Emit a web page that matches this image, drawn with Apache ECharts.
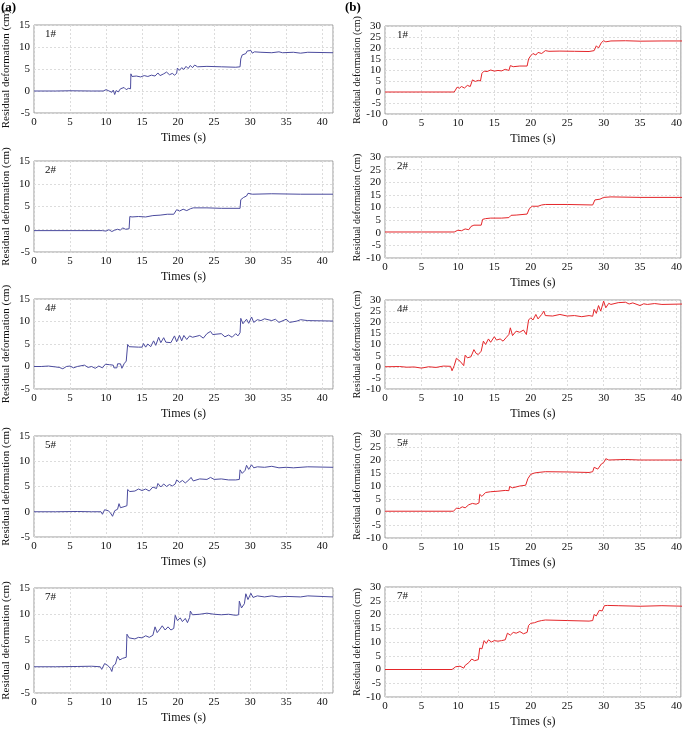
<!DOCTYPE html>
<html>
<head>
<meta charset="utf-8">
<script src="https://cdn.jsdelivr.net/npm/echarts@6/dist/echarts.min.js"></script>
<style>
  html, body { margin: 0; padding: 0; background: #fff; }
  #charts { width: 685px; height: 729px; }
</style>
</head>
<body>
<div id="charts"></div>
<script>
// Panel names, top to bottom
const panelNames = ['1#', '2#', '4#', '5#', '7#'];

// Column (a): residual deformation (cm) vs time (s)
const a1 = [[0,0],[3,0],[5,0.05],[8,0],[9.6,0],[9.8,-0.4],[10,0.3],[10.3,0.1],[10.5,0.4],[10.8,-0.3],[11,0.2],[11.2,-0.8],[11.4,0.1],[11.7,-0.2],[12,0.5],[12.2,0.2],[12.5,0.8],[12.8,0.3],[13.1,0.6],[13.4,0.5],[13.45,3.9],[13.6,3.3],[14.2,3.4],[14.8,3.2],[15.3,3.5],[15.8,3.3],[16.3,3.6],[16.8,3.4],[17.2,4.1],[17.5,3.5],[18,3.9],[18.4,4.3],[18.8,3.7],[19.2,4.0],[19.5,3.6],[19.8,4.0],[19.9,5.2],[20.2,4.7],[20.5,5.3],[20.8,4.9],[21.1,5.6],[21.4,5.1],[21.7,5.8],[22,5.3],[22.3,5.9],[22.7,5.5],[24,5.6],[26,5.5],[28,5.4],[28.6,5.5],[28.7,7.3],[28.9,8.2],[29.1,7.8],[29.4,8.5],[29.6,9.1],[29.8,8.8],[30.1,9.2],[30.3,8.6],[30.6,8.9],[31.5,8.8],[33,8.7],[34,8.9],[34.5,8.7],[36,8.8],[37,8.6],[38,8.8],[41.5,8.7]];
const a2 = [[0,-0.3],[5,-0.3],[9.5,-0.3],[9.7,-0.1],[10,-0.4],[10.4,-0.1],[10.8,-0.5],[11.2,-0.2],[11.6,0],[12,-0.2],[12.3,0.3],[12.7,0],[13.2,0.1],[13.3,2.8],[13.6,2.7],[14.5,2.8],[15.5,2.7],[16.5,3.0],[17.5,3.1],[18.5,3.3],[19.4,3.3],[19.6,3.7],[19.8,4.3],[20.2,4.0],[20.7,4.4],[21.2,4.1],[21.7,4.5],[22.1,4.7],[24,4.7],[26,4.6],[28.6,4.6],[28.7,6.5],[29.1,7.0],[29.5,7.3],[29.7,7.9],[30.3,7.7],[33,7.8],[37,7.7],[41.5,7.7]];
const a3 = [[0,0],[1,0],[2,0.1],[3,-0.1],[3.5,-0.2],[4,-0.5],[4.5,0],[5,0.1],[5.5,-0.3],[6,0],[7,0.3],[7.5,-0.2],[8,0],[8.5,-0.4],[9,0.1],[9.5,-0.3],[9.9,0.5],[10.5,0.4],[11,0.3],[11.1,-0.3],[11.5,-0.3],[11.6,0.6],[12,0.6],[12.2,-0.4],[12.5,0.6],[12.8,1.2],[13,4.9],[13.2,4.4],[14.5,4.3],[15,4.3],[15.2,5.1],[15.5,4.3],[15.8,5.0],[16.2,4.4],[16.6,5.7],[16.9,4.7],[17.3,6.5],[17.6,5.3],[18,6.4],[18.3,5.4],[19,5.3],[19.5,6.8],[19.8,5.5],[20.2,6.9],[20.5,5.7],[20.8,6.9],[21.2,6.0],[21.6,6.8],[22,6.5],[23,6.9],[23.5,6.3],[24,7.3],[24.5,7.8],[24.8,7.1],[25,7.0],[26,7.3],[26.5,6.6],[27,7.0],[27.5,6.5],[28,7.3],[28.3,6.8],[28.6,7.5],[28.7,10.7],[29,9.5],[29.5,10.5],[29.8,9.6],[30.2,11],[30.5,9.8],[31,10.4],[31.5,10.2],[32,10.6],[33,10.2],[33.5,10.5],[34,9.8],[35,10.5],[35.5,9.8],[36.5,10.1],[37,10.4],[38,10.2],[41.5,10.1]];
const a4 = [[0,0],[3,0],[6,0.05],[8,0],[9.3,0],[9.5,-0.5],[9.8,0.4],[10.3,0.2],[10.6,-0.2],[10.9,-0.9],[11.2,0.2],[11.6,0.5],[11.8,1.6],[12,0.8],[12.5,1.0],[12.9,1.2],[13,4.4],[13.3,4.0],[14,4.1],[14.5,4.5],[15,4.2],[15.5,4.5],[16,4.1],[16.5,4.9],[17,4.6],[17.2,5.6],[17.6,4.9],[18,5.5],[18.4,5.0],[18.8,5.4],[19.2,5.1],[19.6,5.5],[19.8,6.3],[20.2,5.8],[20.6,6.2],[21,5.7],[21.5,6.3],[21.8,6.8],[22.1,6.1],[23,6.5],[24,6.4],[24.5,6.8],[25,6.4],[26,6.5],[27,6.3],[28,6.3],[28.5,6.4],[28.6,8.3],[28.9,7.6],[29.3,8.2],[29.5,9.2],[29.8,8.4],[30.2,9.3],[30.5,8.7],[31,8.9],[32,8.8],[33,9.0],[34,8.7],[35,8.8],[36,8.7],[38,8.9],[41.5,8.8]];
const a5 = [[0,0],[3,0],[6,0.05],[8,0.1],[9.2,0],[9.4,-0.5],[9.8,0.6],[10.2,0.3],[10.6,-0.3],[10.8,-0.9],[11,0.2],[11.3,0.5],[11.6,2.0],[11.9,1.3],[12.3,1.6],[12.8,1.8],[12.9,6.2],[13.2,5.5],[14,5.3],[14.5,5.6],[15,5.5],[15.5,5.9],[16,5.6],[16.5,6.0],[16.8,7.6],[17.1,6.5],[17.5,7.2],[17.8,7.8],[18.2,7.0],[18.6,7.6],[19,7.0],[19.4,7.3],[19.6,9.8],[19.9,8.8],[20.3,9.3],[20.6,8.6],[21,9.2],[21.3,8.4],[21.6,9.4],[21.7,10.6],[22,9.9],[23,10.0],[24,10.2],[25,10.0],[26,9.9],[27,10.0],[28,9.8],[28.4,9.9],[28.5,12.5],[28.8,11.2],[29.2,12.0],[29.4,13.9],[29.7,12.8],[30.1,14.0],[30.4,13.2],[31,13.5],[32,13.3],[33,13.5],[34,13.3],[35,13.4],[37,13.3],[38,13.5],[41.5,13.3]];

// Column (b)
const b1 = [[0,0],[5,0],[9.5,0],[9.7,-0.5],[9.9,2.2],[10.2,1.7],[10.5,2.5],[10.9,1.8],[11.3,3.0],[11.7,2.5],[12,5.5],[12.4,4.8],[12.8,5.3],[13.1,5.0],[13.3,8.5],[13.6,9.5],[14,9.3],[14.5,10.0],[15,9.5],[15.5,9.8],[16,9.6],[16.5,10.3],[17,9.8],[17.2,12.0],[17.6,11.5],[18.5,11.8],[19.5,11.8],[19.7,15.0],[20,16.5],[20.3,17.5],[20.7,16.8],[21,18.0],[21.5,17.5],[22,18.8],[22.5,18.5],[24,18.6],[26,18.5],[28,18.4],[28.7,18.8],[29,21.0],[29.3,20.0],[29.7,22.5],[30,23.3],[30.3,22.8],[31,23.2],[33,23.3],[35,23.1],[38,23.2],[41,23.2]];
const b2 = [[0,0.3],[5,0.3],[9.5,0.3],[9.7,0.3],[10,1.0],[10.5,0.8],[11,1.5],[11.5,1.2],[11.8,2.5],[12.2,3.0],[13.2,3.0],[13.4,5.3],[13.8,5.6],[14.5,5.8],[16,5.8],[17,6.0],[17.3,6.9],[18,7.0],[19.5,7.4],[19.8,9.5],[20.2,10.5],[21,10.5],[21.5,11.0],[22,11.2],[25,11.2],[28.5,11.0],[28.8,13.0],[29.5,13.3],[30,14.0],[31,14.2],[35,14.0],[41,14.0]];
const b3 = [[0,0],[2,0.1],[3,-0.2],[4,-0.1],[5,-0.6],[6,0],[7,-0.3],[8,0.3],[9,0.2],[9.2,-1.8],[9.5,0.5],[9.8,3.8],[10,4.5],[10.3,2.5],[10.5,3.0],[10.8,0.5],[11,5.2],[11.3,4.0],[11.8,4.5],[12.2,7.7],[12.5,6.0],[12.8,5.5],[13.2,7.0],[13.5,11.5],[13.8,10.0],[14.2,12.5],[14.5,11.0],[15,13.5],[15.3,12.0],[15.8,12.5],[16.2,11.5],[16.6,13.0],[17,14.5],[17.2,17.5],[17.5,14.0],[18,16.0],[18.5,15.5],[19,16.5],[19.4,14.5],[19.7,21.0],[20,22.0],[20.3,21.0],[20.7,23.5],[21,21.5],[21.5,23.5],[21.8,25.0],[22,23.0],[23,22.8],[24,23.5],[25,22.8],[26,23.0],[27,22.5],[28,23.0],[28.5,22.7],[28.7,25.8],[29,24.0],[29.3,27.5],[29.6,25.0],[30,29.5],[30.3,26.5],[30.7,28.5],[31,28.0],[32,28.8],[33,29.0],[33.5,28.2],[34,28.7],[35,27.5],[35.5,28.3],[36,28.0],[37,28.4],[38,28.0],[41,28.2]];
const b4 = [[0,0.3],[5,0.3],[9.4,0.3],[9.6,-0.3],[9.8,1.5],[10.2,1.3],[10.6,2.0],[11,1.6],[11.5,2.8],[12,3.3],[12.5,3.0],[12.9,3.5],[13,6.8],[13.3,6.0],[13.8,7.5],[14.5,7.8],[15.5,8.0],[16.5,8.3],[17,8.2],[17.1,9.8],[17.5,9.3],[18.5,10.0],[19.3,10.3],[19.6,12.8],[20,14.5],[20.5,15.0],[21,15.2],[22,15.5],[25,15.4],[28,15.2],[28.5,15.5],[28.7,17.2],[29.2,16.5],[29.7,18.5],[30,19.0],[30.3,20.5],[30.7,20.0],[33,20.2],[35,20.0],[41,20.0]];
const b5 = [[0,0],[5,0],[9.2,0],[9.4,-0.6],[9.7,1.0],[10.3,1.2],[10.8,0.5],[11,1.5],[11.5,2.5],[11.9,3.8],[12.3,3.2],[12.8,3.6],[13,7.8],[13.3,7.5],[13.6,10.5],[13.9,9.5],[14.2,10.8],[14.6,10.0],[15,10.5],[15.5,10.3],[16,10.5],[16.5,10.8],[16.8,13.2],[17.2,12.5],[17.6,13.5],[18,13.2],[18.5,13.8],[19,13.0],[19.5,13.5],[19.7,16.0],[20,16.8],[20.5,17.0],[21,17.5],[21.5,17.8],[22,18.0],[25,17.8],[28,17.6],[28.5,17.8],[28.7,20.0],[29,19.5],[29.4,21.5],[29.8,21.3],[30.1,23.2],[30.5,23.3],[32,23.2],[35,23.0],[38,23.2],[41,23.0]];

const seriesA = [a1, a2, a3, a4, a5];
const seriesB = [b1, b2, b3, b4, b5];

// Axis ranges
const xRangeA = [0, 41.5];
const xRangeB = [0, 40.6];
const yRangeA = [-5, 15];
const yRangeB = [-10, 30];

// Panel geometry [top, height] per row, for each column
const rowsA = [[25, 88], [161, 91], [299, 90], [436, 101], [588, 105]];
const rowsB = [[26, 88], [157, 101], [300, 89], [434, 104], [587, 111]];
const colA = { left: 33, width: 300, color: '#4b4b9e', nameSize: 11 };
const colB = { left: 385, width: 298, color: '#e4262a', nameSize: 10 };

const serif = '"Liberation Serif", "DejaVu Serif", serif';

const grids = [], xAxes = [], yAxes = [], series = [], graphics = [];

function addPanel(col, row, data, xRange, yRange, name) {
    const idx = grids.length;
    grids.push({
        left: col.left, top: row[0], width: col.width, height: row[1],
        show: true, borderColor: '#9a9a9a', borderWidth: 1, backgroundColor: '#fff'
    });
    xAxes.push({
        type: 'value', gridIndex: idx, min: xRange[0], max: xRange[1], interval: 5,
        name: 'Times (s)', nameLocation: 'middle', nameGap: 19,
        nameTextStyle: { fontFamily: serif, fontSize: 12, color: '#111' },
        axisLine: { show: false }, axisTick: { show: false },
        axisLabel: {
            fontFamily: serif, fontSize: 11, color: '#111', margin: 4,
            formatter: v => (v % 5 === 0 ? String(v) : '')
        },
        splitLine: { show: true, lineStyle: { color: '#dcdcdc', type: [2, 2], width: 1 } }
    });
    yAxes.push({
        type: 'value', gridIndex: idx, min: yRange[0], max: yRange[1], interval: 5,
        name: 'Residual deformation (cm)', nameLocation: 'middle', nameGap: 22,
        nameTextStyle: { fontFamily: serif, fontSize: col.nameSize, color: '#111' },
        axisLine: { show: false }, axisTick: { show: false },
        axisLabel: { fontFamily: serif, fontSize: 11, color: '#111', margin: 4 },
        splitLine: { show: true, lineStyle: { color: '#dcdcdc', type: [2, 2], width: 1 } }
    });
    series.push({
        type: 'line', xAxisIndex: idx, yAxisIndex: idx, data: data,
        showSymbol: false, animation: false,
        lineStyle: { color: col.color, width: 1 }
    });
    // "n#" tag in the upper left corner of the panel
    graphics.push({
        type: 'text', left: col.left + 12, top: row[0] + 4,
        style: { text: name, font: '11px ' + serif, fill: '#111' }
    });
}

for (let i = 0; i < panelNames.length; i++) {
    addPanel(colA, rowsA[i], seriesA[i], xRangeA, yRangeA, panelNames[i]);
    addPanel(colB, rowsB[i], seriesB[i], xRangeB, yRangeB, panelNames[i]);
}

// Column labels
graphics.push({ type: 'text', left: 1, top: 1, style: { text: '(a)', font: 'bold 13px ' + serif, fill: '#000' } });
graphics.push({ type: 'text', left: 345, top: 1, style: { text: '(b)', font: 'bold 13px ' + serif, fill: '#000' } });

const myChart = echarts.init(document.getElementById('charts'), null, { renderer: 'canvas' });
myChart.setOption({
    backgroundColor: '#fff',
    animation: false,
    grid: grids,
    xAxis: xAxes,
    yAxis: yAxes,
    series: series,
    graphic: graphics
});
</script>
</body>
</html>
